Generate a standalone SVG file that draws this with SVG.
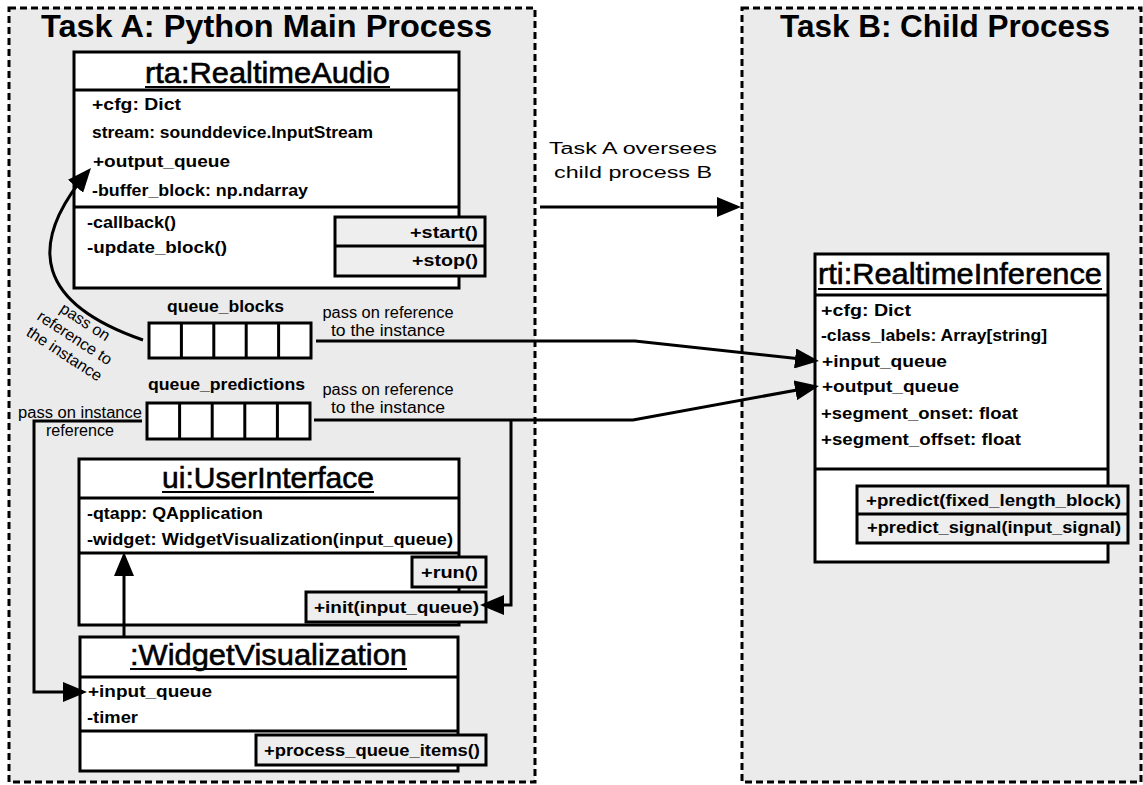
<svg xmlns="http://www.w3.org/2000/svg" width="1143" height="785" viewBox="0 0 1143 785">
  <style>
    .frame{fill:#ebebeb;stroke:#000;stroke-width:3;stroke-dasharray:7 4}
    .box{fill:#fff;stroke:#000;stroke-width:3}
    .mbox{fill:#eeeeee;stroke:#000;stroke-width:3}
    .div{stroke:#000;stroke-width:3;fill:none}
    .ul{stroke:#000;stroke-width:2}
    .ftitle{font-family:"Liberation Sans",Arial,sans-serif;font-weight:bold;font-size:32px}
    .ntitle{font-family:"Liberation Sans",Arial,sans-serif;font-size:30px;text-anchor:middle;stroke:#000;stroke-width:0.6}
    .attr{font-family:"Liberation Sans",Arial,sans-serif;font-weight:bold;font-size:17px}
    .meth{font-family:"Liberation Sans",Arial,sans-serif;font-weight:bold;font-size:17px;text-anchor:end}
    .lbl{font-family:"Liberation Sans",Arial,sans-serif;font-size:16px}
    .conn{fill:none;stroke:#000;stroke-width:3}
  </style>
  <defs>
    <marker id="arrow" markerUnits="userSpaceOnUse" markerWidth="24" markerHeight="20" viewBox="0 0 24 20" refX="20" refY="10" orient="auto">
      <path d="M0,0 L24,10 L0,20 Z" fill="#000"/>
    </marker>
  </defs>

  <rect width="1143" height="785" fill="#fff"/>

  <!-- process frames -->
  <g id="taskA">
    <rect class="frame" x="9" y="8" width="526" height="774"/>
    <text class="ftitle" x="41" y="37" textLength="451" lengthAdjust="spacingAndGlyphs">Task A: Python Main Process</text>
  </g>
  <g id="taskB">
    <rect class="frame" x="742" y="8" width="399" height="774"/>
    <text class="ftitle" x="780" y="37" textLength="330" lengthAdjust="spacingAndGlyphs">Task B: Child Process</text>
  </g>

  <!-- rta:RealtimeAudio -->
  <g id="rta">
    <rect class="box" x="74" y="52" width="385" height="236"/>
    <line class="div" x1="74" y1="90" x2="459" y2="90"/>
    <line class="div" x1="74" y1="207" x2="459" y2="207"/>
    <text class="ntitle" x="267.5" y="83" textLength="245" lengthAdjust="spacingAndGlyphs">rta:RealtimeAudio</text>
    <line class="ul" x1="145" y1="87" x2="390" y2="87"/>
    <text class="attr" x="92" y="110" textLength="89" lengthAdjust="spacingAndGlyphs">+cfg: Dict</text>
    <text class="attr" x="92" y="138" textLength="281" lengthAdjust="spacingAndGlyphs">stream: sounddevice.InputStream</text>
    <text class="attr" x="93" y="167" textLength="137" lengthAdjust="spacingAndGlyphs">+output_queue</text>
    <text class="attr" x="92" y="196" textLength="216" lengthAdjust="spacingAndGlyphs">-buffer_block: np.ndarray</text>
    <text class="attr" x="87" y="228" textLength="89" lengthAdjust="spacingAndGlyphs">-callback()</text>
    <text class="attr" x="87" y="253" textLength="140" lengthAdjust="spacingAndGlyphs">-update_block()</text>
    <rect class="mbox" x="335" y="217" width="150" height="59"/>
    <line class="div" x1="335" y1="246" x2="485" y2="246"/>
    <text class="meth" x="478" y="238" textLength="68" lengthAdjust="spacingAndGlyphs">+start()</text>
    <text class="meth" x="478" y="266" textLength="66" lengthAdjust="spacingAndGlyphs">+stop()</text>
  </g>

  <!-- queue_blocks -->
  <g id="queue_blocks">
    <text class="attr" x="167" y="312" textLength="117" lengthAdjust="spacingAndGlyphs">queue_blocks</text>
    <rect class="box" x="149" y="323" width="162" height="35"/>
    <path class="div" d="M181.4,323V358M213.8,323V358M246.2,323V358M278.6,323V358"/>
  </g>

  <!-- queue_predictions -->
  <g id="queue_predictions">
    <text class="attr" x="148" y="390" textLength="157" lengthAdjust="spacingAndGlyphs">queue_predictions</text>
    <rect class="box" x="147" y="403" width="163" height="36"/>
    <path class="div" d="M179.6,403V439M212.2,403V439M244.8,403V439M277.4,403V439"/>
  </g>

  <!-- ui:UserInterface -->
  <g id="ui">
    <rect class="box" x="79" y="459" width="380" height="166"/>
    <line class="div" x1="79" y1="498" x2="459" y2="498"/>
    <line class="div" x1="79" y1="553" x2="459" y2="553"/>
    <text class="ntitle" x="268" y="488" textLength="212" lengthAdjust="spacingAndGlyphs">ui:UserInterface</text>
    <line class="ul" x1="162" y1="492" x2="374" y2="492"/>
    <text class="attr" x="87" y="519" textLength="176" lengthAdjust="spacingAndGlyphs">-qtapp: QApplication</text>
    <text class="attr" x="87" y="545" textLength="366" lengthAdjust="spacingAndGlyphs">-widget: WidgetVisualization(input_queue)</text>
    <rect class="mbox" x="412" y="557" width="74" height="30"/>
    <text class="meth" x="478" y="578" textLength="57" lengthAdjust="spacingAndGlyphs">+run()</text>
    <rect class="mbox" x="306" y="592" width="180" height="30"/>
    <text class="meth" x="479" y="613" textLength="165" lengthAdjust="spacingAndGlyphs">+init(input_queue)</text>
  </g>

  <!-- :WidgetVisualization -->
  <g id="widget">
    <rect class="box" x="80" y="637" width="378" height="134"/>
    <line class="div" x1="80" y1="677" x2="458" y2="677"/>
    <line class="div" x1="80" y1="731" x2="458" y2="731"/>
    <text class="ntitle" x="268.5" y="665" textLength="277" lengthAdjust="spacingAndGlyphs">:WidgetVisualization</text>
    <line class="ul" x1="130" y1="669" x2="407" y2="669"/>
    <text class="attr" x="88" y="697" textLength="124" lengthAdjust="spacingAndGlyphs">+input_queue</text>
    <text class="attr" x="87" y="723" textLength="51" lengthAdjust="spacingAndGlyphs">-timer</text>
    <rect class="mbox" x="256" y="735" width="230" height="30"/>
    <text class="meth" x="480" y="756" textLength="216" lengthAdjust="spacingAndGlyphs">+process_queue_items()</text>
  </g>

  <!-- rti:RealtimeInference -->
  <g id="rti">
    <rect class="box" x="815" y="254" width="293" height="308"/>
    <line class="div" x1="815" y1="295" x2="1108" y2="295"/>
    <line class="div" x1="815" y1="469" x2="1108" y2="469"/>
    <text class="ntitle" x="960" y="284" textLength="284" lengthAdjust="spacingAndGlyphs">rti:RealtimeInference</text>
    <line class="ul" x1="818" y1="289" x2="1102" y2="289"/>
    <text class="attr" x="821" y="316" textLength="90" lengthAdjust="spacingAndGlyphs">+cfg: Dict</text>
    <text class="attr" x="821" y="341" textLength="226" lengthAdjust="spacingAndGlyphs">-class_labels: Array[string]</text>
    <text class="attr" x="822" y="367" textLength="125" lengthAdjust="spacingAndGlyphs">+input_queue</text>
    <text class="attr" x="822" y="392" textLength="137" lengthAdjust="spacingAndGlyphs">+output_queue</text>
    <text class="attr" x="821" y="419" textLength="197" lengthAdjust="spacingAndGlyphs">+segment_onset: float</text>
    <text class="attr" x="821" y="445" textLength="200" lengthAdjust="spacingAndGlyphs">+segment_offset: float</text>
    <rect class="mbox" x="857" y="486" width="271" height="57"/>
    <line class="div" x1="857" y1="514" x2="1128" y2="514"/>
    <text class="meth" x="1121" y="506" textLength="255" lengthAdjust="spacingAndGlyphs">+predict(fixed_length_block)</text>
    <text class="meth" x="1121" y="533" textLength="254" lengthAdjust="spacingAndGlyphs">+predict_signal(input_signal)</text>
  </g>

  <!-- connectors -->
  <g id="connectors">
    <!-- Task A supervises Task B -->
    <path class="conn" d="M540,207H737" marker-end="url(#arrow)"/>
    <text class="lbl" x="633" y="154" text-anchor="middle" font-size="21" textLength="168" lengthAdjust="spacingAndGlyphs">Task A oversees</text>
    <text class="lbl" x="633" y="178" text-anchor="middle" font-size="21" textLength="158" lengthAdjust="spacingAndGlyphs">child process B</text>

    <!-- queue_blocks -> rta.output_queue -->
    <path class="conn" d="M143,340C39,304 24,247 88.4,171" marker-end="url(#arrow)"/>
    <g transform="translate(74,339) rotate(33)" class="lbl" text-anchor="middle" font-size="17">
      <text x="0" y="-15">pass on</text>
      <text x="0" y="4">reference to</text>
      <text x="0" y="23">the instance</text>
    </g>

    <!-- queue_blocks -> rti.input_queue -->
    <path class="conn" d="M316,341H635L815,360.6" marker-end="url(#arrow)"/>
    <text class="lbl" x="388" y="318" text-anchor="middle" textLength="131" lengthAdjust="spacingAndGlyphs">pass on reference</text>
    <text class="lbl" x="388" y="336" text-anchor="middle" textLength="114" lengthAdjust="spacingAndGlyphs">to the instance</text>

    <!-- queue_predictions -> rti.output_queue -->
    <path class="conn" d="M314,420H633L815,386.7" marker-end="url(#arrow)"/>
    <text class="lbl" x="388" y="395" text-anchor="middle" textLength="131" lengthAdjust="spacingAndGlyphs">pass on reference</text>
    <text class="lbl" x="388" y="413" text-anchor="middle" textLength="114" lengthAdjust="spacingAndGlyphs">to the instance</text>

    <!-- queue_predictions -> ui.init -->
    <path class="conn" d="M511,420V605H484" marker-end="url(#arrow)"/>

    <!-- queue_predictions -> widget.input_queue -->
    <path class="conn" d="M142,421H34V692H83" marker-end="url(#arrow)"/>
    <text class="lbl" x="80" y="418" text-anchor="middle" textLength="124" lengthAdjust="spacingAndGlyphs">pass on instance</text>
    <text class="lbl" x="80" y="436" text-anchor="middle" textLength="68" lengthAdjust="spacingAndGlyphs">reference</text>

    <!-- widget -> ui.widget -->
    <path class="conn" d="M124,637V556" marker-end="url(#arrow)"/>
  </g>
</svg>
